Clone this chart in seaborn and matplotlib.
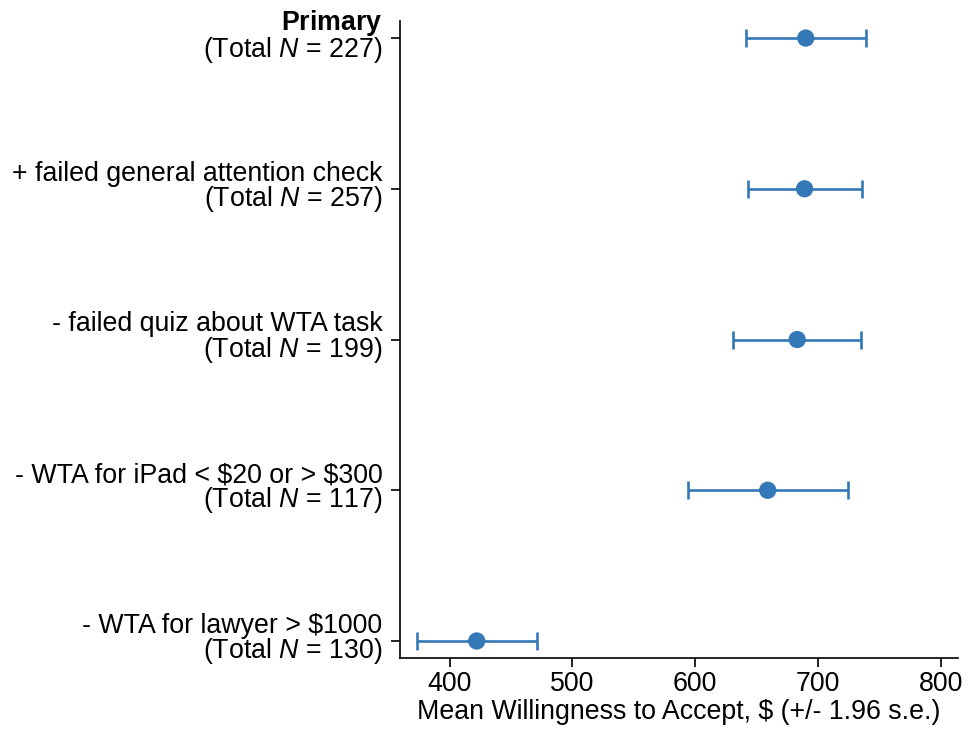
import matplotlib
matplotlib.use("Agg")
import matplotlib.pyplot as plt
import matplotlib.transforms as mtransforms
import seaborn as sns
import pandas as pd

# Sample definitions and their estimates
samples = [
    "$\\bf{Primary}$",
    "+ failed general attention check",
    "- failed quiz about WTA task",
    "- WTA for iPad < \\$20 or > \\$300",
    "- WTA for lawyer > \\$1000",
]
total_n = [227, 257, 199, 117, 130]
mean_wta = [690, 689, 683, 659, 422]
ci_low = [641, 643, 631, 594, 373]
ci_high = [739, 736, 735, 724, 471]
x_ticks = [400, 500, 600, 700, 800]

labels = [f"{s}\n(Total $N$ = {n})" for s, n in zip(samples, total_n)]
df = pd.DataFrame({"label": labels, "mean": mean_wta, "lo": ci_low, "hi": ci_high})
df["pos"] = range(len(df))

sns.set_theme(style="ticks")
plt.rcParams["font.family"] = ["Liberation Sans", "DejaVu Sans"]
plt.rcParams["mathtext.fontset"] = "custom"
plt.rcParams["mathtext.rm"] = "Liberation Sans"
plt.rcParams["mathtext.it"] = "Liberation Sans:italic"
plt.rcParams["mathtext.bf"] = "Liberation Sans:bold"

color = "#3478b8"
fs = 19.3

fig = plt.figure(figsize=(9.68, 7.30), dpi=100)
ax = fig.add_axes([0.4132, 0.0986, 0.5765, 0.8726])

ax.errorbar(df["mean"], df["pos"],
            xerr=[df["mean"] - df["lo"], df["hi"] - df["mean"]],
            fmt="none", ecolor=color, elinewidth=1.9, capsize=6.5,
            capthick=1.9, zorder=2)
sns.scatterplot(data=df, x="mean", y="pos", ax=ax, color=color, s=155,
                edgecolor="none", zorder=3, legend=False)

ax.set_xlim(359.5, 814)
ax.set_ylim(4.113, -0.113)
ax.set_xticks(x_ticks)
ax.set_xticklabels([str(v) for v in x_ticks])
ax.set_yticks(df["pos"])
ax.set_yticklabels(df["label"], linespacing=0.88)
ax.set_xlabel("Mean Willingness to Accept, \\$ (+/- 1.96 s.e.)", fontsize=fs,
              labelpad=1, color="black")
ax.set_ylabel("")

for side in ["top", "right"]:
    ax.spines[side].set_visible(False)
for side in ["left", "bottom"]:
    ax.spines[side].set_linewidth(1.2)
    ax.spines[side].set_color("black")

ax.tick_params(axis="x", labelsize=fs, length=6.5, width=1.2, pad=3,
               colors="black")
ax.tick_params(axis="y", labelsize=fs, length=6.5, width=1.2, pad=6,
               colors="black")

# nudge the two-line category labels slightly upward
shift = mtransforms.ScaledTranslation(0, 3 / 72, fig.dpi_scale_trans)
for lab in ax.get_yticklabels():
    lab.set_transform(lab.get_transform() + shift)

fig.savefig("out.png", dpi=100, facecolor="white")
